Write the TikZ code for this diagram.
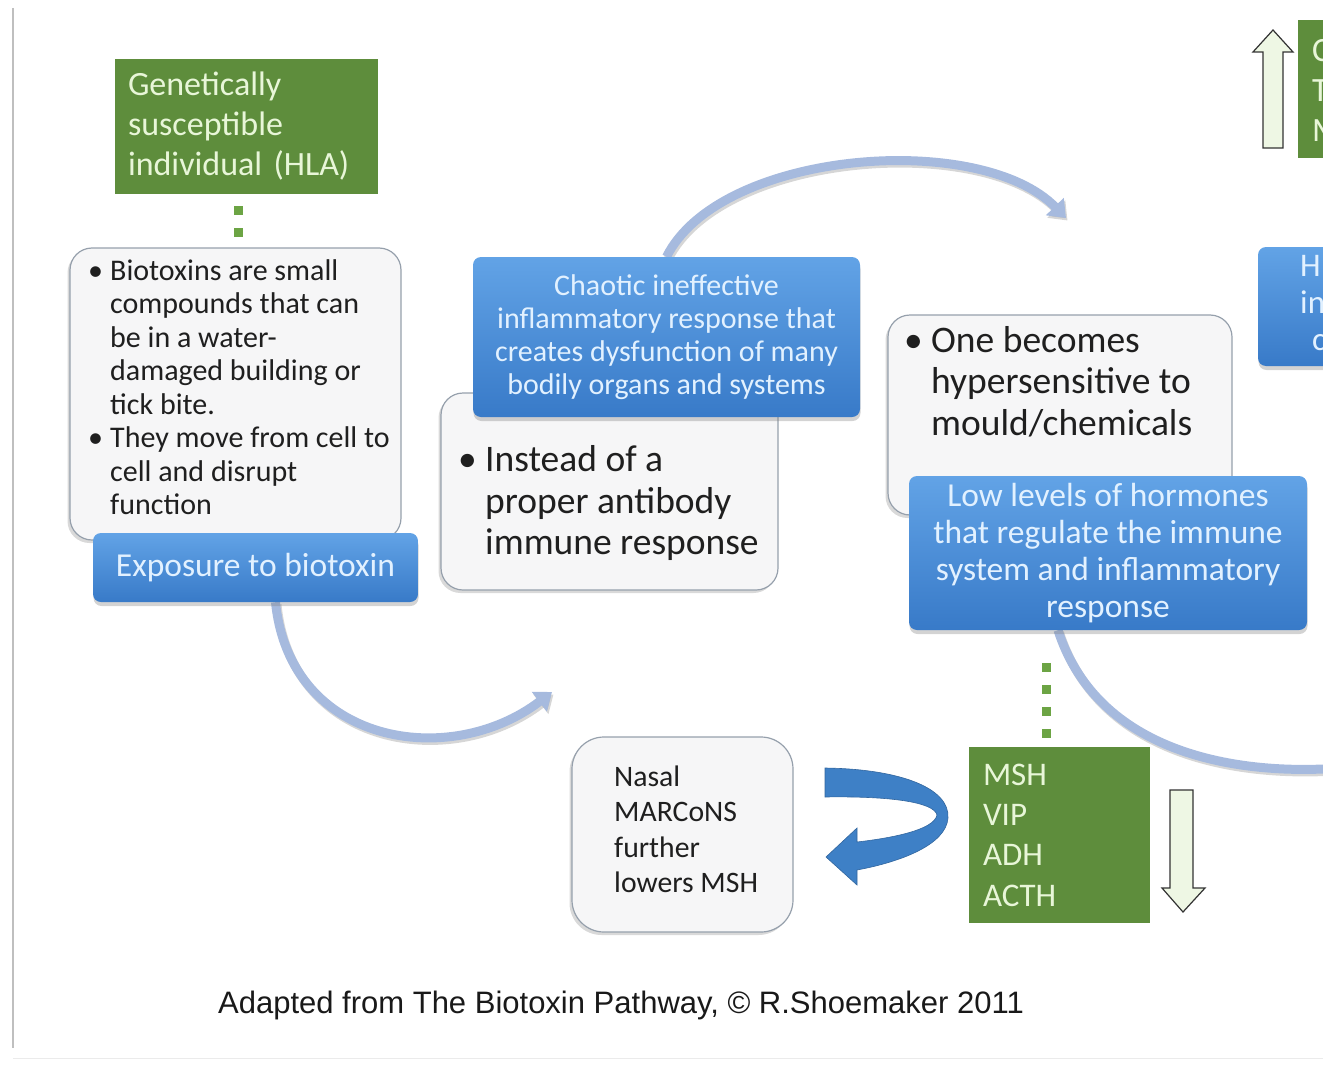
\documentclass[tikz,border=0pt]{standalone}
\usepackage{fontspec}
\setmainfont{Carlito}
\newfontfamily\capfont{Liberation Sans}
\usetikzlibrary{arrows.meta,shadows,backgrounds}
\definecolor{hlagreen}{RGB}{94,141,60}
\definecolor{hlatext}{RGB}{232,246,216}
\definecolor{boxbluetop}{RGB}{98,163,230}
\definecolor{boxbluebot}{RGB}{56,122,200}
\definecolor{bluetext}{RGB}{226,241,255}
\definecolor{greyfill}{RGB}{246,246,247}
\definecolor{greyedge}{RGB}{150,160,172}
\definecolor{arcblue}{RGB}{166,186,222}
\definecolor{dotgreen}{RGB}{108,164,68}
\definecolor{uturnblue}{RGB}{62,128,198}
\definecolor{arrowfill}{RGB}{238,247,228}
\newcommand{\bul}{\textbullet}
\begin{document}
\begin{tikzpicture}[x=1pt,y=-1pt,
  greybox/.style={draw=greyedge,line width=1.2pt,fill=greyfill,rounded corners=22pt,inner sep=0pt,
    drop shadow={shadow xshift=-2.5pt,shadow yshift=-3pt,opacity=0.3}},
  bluebox/.style={rounded corners=8pt,top color=boxbluetop,bottom color=boxbluebot,text=bluetext,
    align=center,inner sep=0pt,drop shadow={shadow xshift=0.5pt,shadow yshift=-4pt,opacity=0.35}},
  greenbox/.style={fill=hlagreen,text=hlatext,align=left},
  bodytext/.style={text=black!88,anchor=west,inner sep=0pt,align=left},
  arcarrow/.style={draw=arcblue,line width=9pt},
  arcshade/.style={draw=black!40,line width=9pt,opacity=0.4,transform canvas={shift={(1.5pt,-2.5pt)}}},
  arctip/.style={-{Triangle[length=16pt,width=24pt]}},
  dotlink/.style={draw=dotgreen,line width=9pt,dash pattern=on 9pt off 13pt},
  updown/.style={draw=black!80,line width=1.2pt,fill=arrowfill,line join=miter},
  frameline/.style={draw=black!25,line width=1.5pt}]
\useasboundingbox (0,0) rectangle (1323,1065);
\clip (0,0) rectangle (1323,1065);
\draw[frameline] (13,8) -- (13,1048);
\draw[draw=black!8,line width=1pt] (13,1058) -- (1323,1058);

% top left
\node[greenbox,text width=237pt,inner xsep=13pt,minimum height=135pt,
  font=\fontsize{34}{40}\selectfont] (hla) at (246.5,126.5)
  {Genetically\\susceptible\\individual (HLA)};
\node[greybox,minimum width=331pt,minimum height=292pt] (bio) at (235.5,394) {};
\node[bodytext,font=\fontsize{30}{33.5}\selectfont] (biotxt) at (88,391)
  {\begin{tabular}{@{}p{22pt}@{}l@{}}
   \bul & Biotoxins are small\\ & compounds that can\\ & be in a water-\\
        & damaged building or\\ & tick bite.\\
   \bul & They move from cell to\\ & cell and disrupt\\ & function
   \end{tabular}};
\node[bluebox,minimum width=325pt,minimum height=69pt,
  font=\fontsize{33.5}{36}\selectfont] (expo) at (255.5,567.5) {Exposure to biotoxin};
\draw[dotlink] ([xshift=-8.5pt,yshift=-12pt]hla.south) -- ++(0,32);

% middle
\node[greybox,minimum width=337pt,minimum height=197pt] (inst) at (609.5,491.5) {};
\node[bodytext,font=\fontsize{37.5}{41.5}\selectfont] (insttxt) at (458,505)
  {\begin{tabular}{@{}p{27pt}@{}l@{}}
   \bul & Instead of a\\ & proper antibody\\ & immune response
   \end{tabular}};
\node[bluebox,minimum width=387pt,minimum height=160pt,
  font=\fontsize{30}{33}\selectfont] (chaos) at (666.5,337)
  {Chaotic ineffective\\inflammatory response that\\creates dysfunction of many\\bodily organs and systems};

% right
\node[greybox,minimum width=344pt,minimum height=200pt] (hyper) at (1060,415) {};
\node[bodytext,font=\fontsize{37.5}{41.5}\selectfont] (hypertxt) at (904,385.5)
  {\begin{tabular}{@{}p{27pt}@{}l@{}}
   \bul & One becomes\\ & hypersensitive to\\ & mould/chemicals
   \end{tabular}};
\node[bluebox,minimum width=398pt,minimum height=154pt,
  font=\fontsize{33.5}{37}\selectfont] (lowhorm) at (1108,553)
  {Low levels of hormones\\that regulate the immune\\system and inflammatory\\response};

% hormones
\node[greenbox,text width=153pt,inner xsep=14pt,minimum height=176pt,
  font=\fontsize{33}{40.3}\selectfont] (msh) at (1059.5,835) {MSH\\VIP\\ADH\\ACTH};
\draw[dotlink] ([xshift=-13.5pt,yshift=84pt]msh.north) -- ([xshift=-13.5pt,yshift=7pt]msh.north);
\draw[updown] (1170,790) -- (1193,790) -- (1193,888) -- (1205,888) -- (1183,912)
  -- (1162,888) -- (1170,888) -- cycle;
\node[greybox,rounded corners=32pt,minimum width=221pt,minimum height=195pt] (nasal) at (682.5,834.5) {};
\node[bodytext,font=\fontsize{29.7}{35.5}\selectfont] (nasaltxt) at (614,829.5)
  {Nasal\\MARCoNS\\further\\lowers MSH};
\fill[uturnblue,draw=uturnblue!80!black,line width=0.6pt]
  (825,768) .. controls (900,769) and (950,788) .. (948,818)
  .. controls (946,845) and (900,862) .. (857,870) -- (857,885) -- (826,857) -- (857,828)
  -- (857,842) .. controls (892,838) and (934,830) .. (937,815)
  .. controls (934,802) and (890,796) .. (825,797) -- cycle;

% cut at the right edge
\node[greenbox,minimum width=62pt,minimum height=138pt] (trgreen) at (1329,89) {};
\node[bodytext,text=hlatext,font=\fontsize{34}{40}\selectfont] (trgreentxt) at (1312,90) {C\\T\\M};
\draw[updown] (1263,148) -- (1263,52) -- (1253,52) -- (1273,30) -- (1293,52) -- (1283,52)
  -- (1283,148) -- cycle;
\node[bluebox,minimum width=102pt,minimum height=119pt] (trblue) at (1309,306.5) {};
\node[bodytext,text=bluetext,font=\fontsize{33}{37}\selectfont] (trbluetxt) at (1300,303)
  {H\\in\\\hspace*{12pt}c};

\node[font=\capfont\fontsize{31}{36}\selectfont,text=black!90] (credit) at (621,1005)
  {Adapted from The Biotoxin Pathway, © R.Shoemaker 2011};

% curved arrows behind the boxes
\coordinate (arcAend) at (552,692);
\coordinate (arcBend) at (1066,218);
\coordinate (arcCend) at (1340,768);
\begin{scope}[on background layer]
\draw[arcshade,arctip] ([xshift=20pt]expo.south) .. controls (290,745) and (450,770) .. (arcAend);
\draw[arcarrow,arctip] ([xshift=20pt]expo.south) .. controls (290,745) and (450,770) .. (arcAend);
\draw[arcshade,arctip] (chaos.north) .. controls (720,150) and (980,130) .. (arcBend);
\draw[arcarrow,arctip] (chaos.north) .. controls (720,150) and (980,130) .. (arcBend);
\draw[arcshade] ([xshift=-50pt]lowhorm.south) .. controls (1100,760) and (1250,775) .. (arcCend);
\draw[arcarrow] ([xshift=-50pt]lowhorm.south) .. controls (1100,760) and (1250,775) .. (arcCend);
\end{scope}
\end{tikzpicture}
\end{document}
